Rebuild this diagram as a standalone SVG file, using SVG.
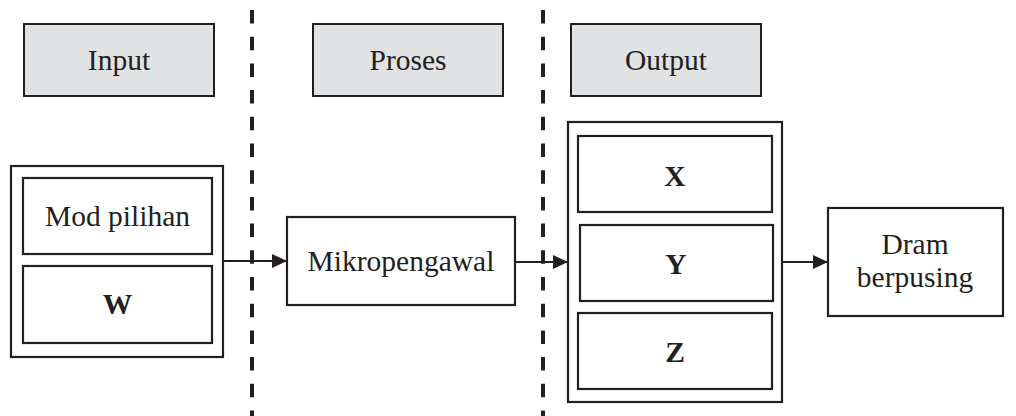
<svg xmlns="http://www.w3.org/2000/svg" width="1016" height="416" viewBox="0 0 1016 416">
<defs>
<style>
.hdr{fill:#e1e2e3;stroke:#231f20;stroke-width:2}
.box{fill:#fff;stroke:#231f20;stroke-width:2.2}
.t{font-family:"Liberation Serif","Times New Roman",serif;font-size:29.5px;fill:#231f20;text-anchor:middle}
.b{font-weight:bold}
.dash{stroke:#231f20;stroke-width:4;stroke-dasharray:13.5 13.2;fill:none}
.conn{stroke:#231f20;stroke-width:2.2;fill:none;marker-end:url(#ah)}
</style>
<marker id="ah" markerUnits="userSpaceOnUse" markerWidth="16" markerHeight="16" refX="15" refY="7" orient="auto">
<path d="M0,0 L15,7 L0,14 Z" fill="#231f20"/>
</marker>
</defs>
<g id="dividers">
<line class="dash" x1="252" y1="10" x2="252" y2="416"/>
<line class="dash" x1="543" y1="10" x2="543" y2="416"/>
</g>
<g id="hdr-input"><rect class="hdr" x="24" y="24" width="190" height="72"/><text class="t" x="119" y="70">Input</text></g>
<g id="hdr-proses"><rect class="hdr" x="313" y="24" width="190" height="72"/><text class="t" x="408" y="70">Proses</text></g>
<g id="hdr-output"><rect class="hdr" x="571" y="24" width="190" height="72"/><text class="t" x="666" y="70">Output</text></g>
<g id="input-group">
<rect class="box" x="11" y="166" width="212" height="191"/>
<rect class="box" x="23" y="178" width="189" height="76"/>
<text class="t" x="117.5" y="226">Mod pilihan</text>
<rect class="box" x="23" y="266" width="189" height="77"/>
<text class="t b" x="117.5" y="314">W</text>
</g>
<g id="mikropengawal">
<rect class="box" x="287" y="217" width="228" height="88"/>
<text class="t" x="401" y="271">Mikropengawal</text>
</g>
<g id="output-group">
<rect class="box" x="568" y="122" width="214" height="280"/>
<rect class="box" x="578" y="136" width="194" height="76"/>
<text class="t b" x="675" y="186">X</text>
<rect class="box" x="580" y="225" width="193" height="76"/>
<text class="t b" x="676" y="274">Y</text>
<rect class="box" x="578" y="313" width="194" height="76"/>
<text class="t b" x="675" y="362">Z</text>
</g>
<g id="dram">
<rect class="box" x="828" y="208" width="175" height="108"/>
<text class="t" x="915" y="254">Dram</text>
<text class="t" x="915" y="287">berpusing</text>
</g>
<g id="connectors">
<line class="conn" x1="223" y1="261" x2="287" y2="261"/>
<line class="conn" x1="515" y1="262" x2="568" y2="262"/>
<line class="conn" x1="782" y1="262" x2="828" y2="262"/>
</g>
</svg>
